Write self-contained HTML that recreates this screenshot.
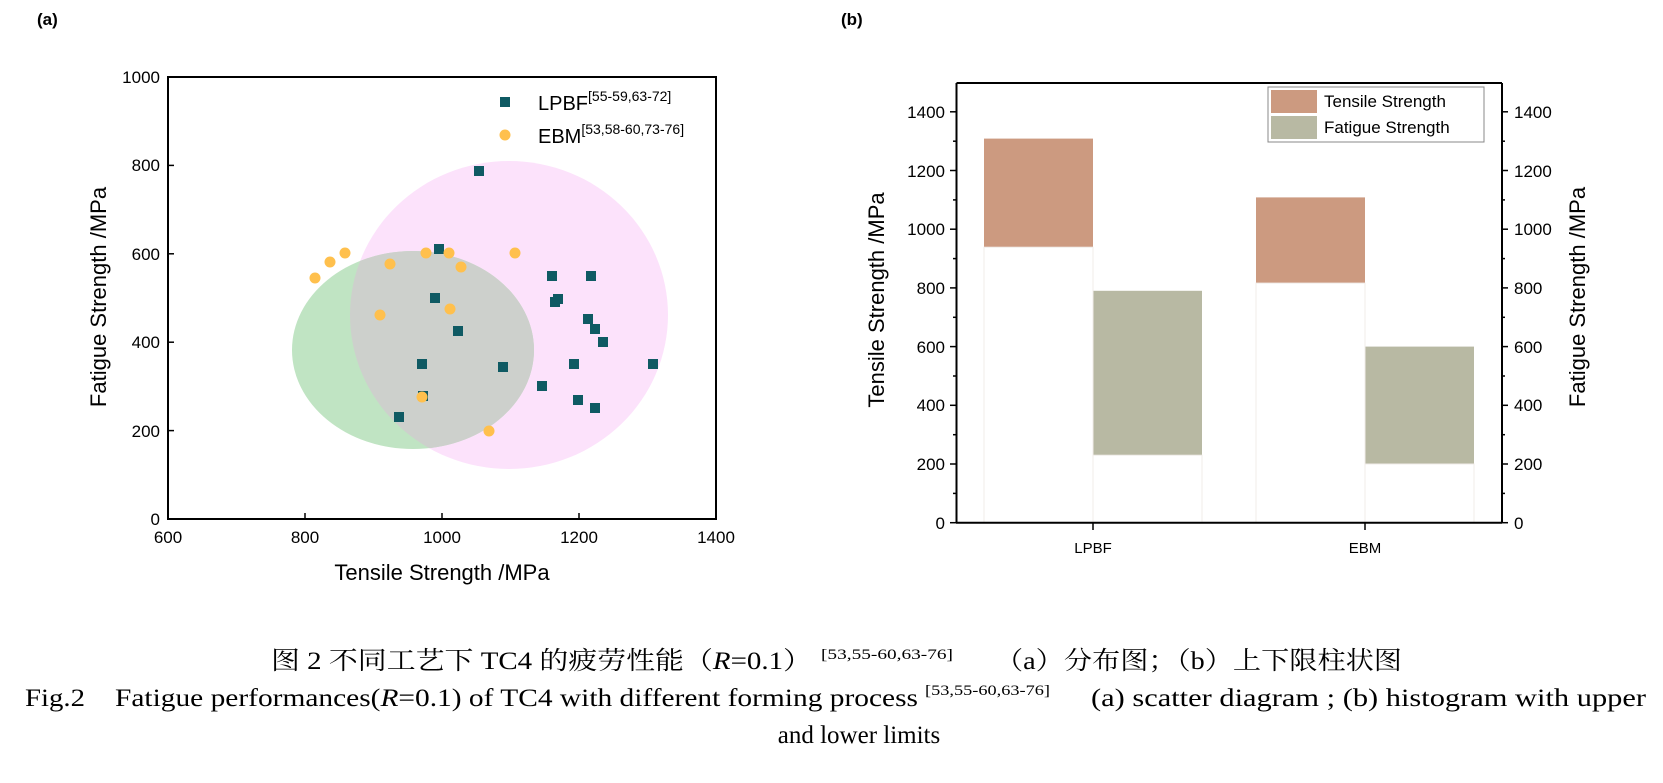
<!DOCTYPE html>
<html><head><meta charset="utf-8"><style>
html,body{margin:0;padding:0;background:#fff;}
svg{display:block;}
</style></head><body>
<svg width="1663" height="783" viewBox="0 0 1663 783" xmlns="http://www.w3.org/2000/svg" font-family="Liberation Sans, sans-serif">
<defs>
<clipPath id="pk"><ellipse cx="509" cy="315" rx="159" ry="154"/></clipPath>
</defs>
<text x="37" y="25" font-size="17" font-weight="bold">(a)</text>
<text x="841" y="25" font-size="17" font-weight="bold">(b)</text>

<!-- Chart A -->
<ellipse cx="509" cy="315" rx="159" ry="154" fill="#fce2fb"/>
<ellipse cx="413" cy="350" rx="121" ry="99" fill="#c0e4c3"/>
<ellipse cx="413" cy="350" rx="121" ry="99" fill="#cdd0cc" clip-path="url(#pk)"/>
<rect x="168" y="77" width="548" height="442" fill="none" stroke="#000" stroke-width="2"/>
<g stroke="#000" stroke-width="1.5">
<line x1="305" y1="519" x2="305" y2="513"/><line x1="442" y1="519" x2="442" y2="513"/><line x1="579" y1="519" x2="579" y2="513"/>
<line x1="168" y1="430.6" x2="174" y2="430.6"/><line x1="168" y1="342.2" x2="174" y2="342.2"/><line x1="168" y1="253.8" x2="174" y2="253.8"/><line x1="168" y1="165.4" x2="174" y2="165.4"/>
</g>
<g font-size="17" text-anchor="middle">
<text x="168" y="543">600</text><text x="305" y="543">800</text><text x="442" y="543">1000</text><text x="579" y="543">1200</text><text x="716" y="543">1400</text>
</g>
<g font-size="17" text-anchor="end">
<text x="160" y="525">0</text><text x="160" y="437">200</text><text x="160" y="348">400</text><text x="160" y="260">600</text><text x="160" y="171">800</text><text x="160" y="83">1000</text>
</g>
<text x="442" y="580" font-size="22" text-anchor="middle">Tensile Strength /MPa</text>
<text transform="translate(106,297) rotate(-90)" font-size="22" text-anchor="middle">Fatigue Strength /MPa</text>
<g fill="#0f5a63">
<rect x="500" y="97" width="10" height="10"/>
<rect x="474" y="166" width="10" height="10"/><rect x="434" y="244" width="10" height="10"/><rect x="430" y="293" width="10" height="10"/>
<rect x="547" y="271" width="10" height="10"/><rect x="586" y="271" width="10" height="10"/><rect x="550" y="297" width="10" height="10"/>
<rect x="553" y="294" width="10" height="10"/><rect x="453" y="326" width="10" height="10"/><rect x="583" y="314" width="10" height="10"/>
<rect x="590" y="324" width="10" height="10"/><rect x="598" y="337" width="10" height="10"/><rect x="417" y="359" width="10" height="10"/>
<rect x="498" y="362" width="10" height="10"/><rect x="569" y="359" width="10" height="10"/><rect x="648" y="359" width="10" height="10"/>
<rect x="537" y="381" width="10" height="10"/><rect x="573" y="395" width="10" height="10"/><rect x="590" y="403" width="10" height="10"/>
<rect x="418" y="391" width="10" height="10"/><rect x="394" y="412" width="10" height="10"/>
</g>
<g fill="#ffc04d">
<circle cx="505" cy="135" r="5.5"/>
<circle cx="315" cy="278" r="5.5"/><circle cx="330" cy="262" r="5.5"/><circle cx="345" cy="253" r="5.5"/><circle cx="390" cy="264" r="5.5"/>
<circle cx="426" cy="253" r="5.5"/><circle cx="449" cy="253" r="5.5"/><circle cx="461" cy="267" r="5.5"/><circle cx="515" cy="253" r="5.5"/>
<circle cx="380" cy="315" r="5.5"/><circle cx="450" cy="309" r="5.5"/><circle cx="422" cy="397" r="5.5"/><circle cx="489" cy="431" r="5.5"/>
</g>
<text x="538" y="110" font-size="20">LPBF<tspan font-size="14" dy="-9">[55-59,63-72]</tspan></text>
<text x="538" y="143" font-size="20">EBM<tspan font-size="14" dy="-9">[53,58-60,73-76]</tspan></text>

<!-- Chart B -->
<g>
<rect x="984" y="138.6" width="109" height="108.6" fill="#cc9a80"/>
<rect x="1093" y="290.8" width="109" height="164.4" fill="#b8b9a3"/>
<rect x="1256" y="197.4" width="109" height="85.7" fill="#cc9a80"/>
<rect x="1365" y="346.6" width="109" height="117.4" fill="#b8b9a3"/>
<g stroke="#f0ece8" stroke-width="1" fill="none">
<rect x="984" y="247.2" width="109" height="275.5"/><rect x="1093" y="455.2" width="109" height="67.5"/>
<rect x="1256" y="283.1" width="109" height="239.6"/><rect x="1365" y="464" width="109" height="58.7"/>
</g>
</g>
<line x1="956.5" y1="83" x2="1502" y2="83" stroke="#000" stroke-width="2"/>
<line x1="956.5" y1="83" x2="956.5" y2="523" stroke="#000" stroke-width="2"/>
<line x1="1502" y1="83" x2="1502" y2="523" stroke="#000" stroke-width="2"/>
<line x1="956" y1="522.7" x2="1502" y2="522.7" stroke="#000" stroke-width="2"/>
<g stroke="#000" stroke-width="1.5">
<line x1="1093" y1="523" x2="1093" y2="530"/><line x1="1365" y1="523" x2="1365" y2="530"/>
<g id="tk">
<line x1="950" y1="522.7" x2="956" y2="522.7"/><line x1="950" y1="464" x2="956" y2="464"/><line x1="950" y1="405.3" x2="956" y2="405.3"/><line x1="950" y1="346.6" x2="956" y2="346.6"/><line x1="950" y1="287.9" x2="956" y2="287.9"/><line x1="950" y1="229.2" x2="956" y2="229.2"/><line x1="950" y1="170.5" x2="956" y2="170.5"/><line x1="950" y1="111.8" x2="956" y2="111.8"/>
<line x1="953" y1="493.4" x2="956" y2="493.4"/><line x1="953" y1="434.7" x2="956" y2="434.7"/><line x1="953" y1="376" x2="956" y2="376"/><line x1="953" y1="317.3" x2="956" y2="317.3"/><line x1="953" y1="258.6" x2="956" y2="258.6"/><line x1="953" y1="199.9" x2="956" y2="199.9"/><line x1="953" y1="141.2" x2="956" y2="141.2"/>
</g>
<g transform="translate(2458,0) scale(-1,1)"><use href="#tk"/></g>
</g>
<g font-size="17" text-anchor="end">
<text x="945" y="529">0</text><text x="945" y="470">200</text><text x="945" y="411">400</text><text x="945" y="353">600</text><text x="945" y="294">800</text><text x="945" y="235">1000</text><text x="945" y="177">1200</text><text x="945" y="118">1400</text>
</g>
<g font-size="17">
<text x="1514" y="529">0</text><text x="1514" y="470">200</text><text x="1514" y="411">400</text><text x="1514" y="353">600</text><text x="1514" y="294">800</text><text x="1514" y="235">1000</text><text x="1514" y="177">1200</text><text x="1514" y="118">1400</text>
</g>
<g font-size="15" text-anchor="middle"><text x="1093" y="553">LPBF</text><text x="1365" y="553">EBM</text></g>
<text transform="translate(884,300) rotate(-90)" font-size="22" text-anchor="middle">Tensile Strength /MPa</text>
<text transform="translate(1585,297) rotate(-90)" font-size="22" text-anchor="middle">Fatigue Strength /MPa</text>
<rect x="1268" y="87" width="216" height="55" fill="#fff" stroke="#888" stroke-width="1"/>
<rect x="1271" y="90" width="46" height="23" fill="#cc9a80"/>
<rect x="1271" y="116" width="46" height="23" fill="#b8b9a3"/>
<text x="1324" y="107" font-size="17">Tensile Strength</text>
<text x="1324" y="133" font-size="17">Fatigue Strength</text>

<!-- Caption -->
<g font-family="Liberation Serif, Noto Serif CJK SC, serif">
<text x="271" y="669" font-size="25" textLength="541" lengthAdjust="spacingAndGlyphs">图 2  不同工艺下 TC4 的疲劳性能（<tspan font-style="italic">R</tspan>=0.1）</text>
<text x="821" y="659" font-size="15" textLength="132" lengthAdjust="spacingAndGlyphs">[53,55-60,63-76]</text>
<text x="995" y="669" font-size="25" textLength="407" lengthAdjust="spacingAndGlyphs">（a）分布图；（b）上下限柱状图</text>

<text x="25" y="706" font-size="25" textLength="60" lengthAdjust="spacingAndGlyphs">Fig.2</text>
<text x="115" y="706" font-size="25" textLength="803" lengthAdjust="spacingAndGlyphs">Fatigue performances(<tspan font-style="italic">R</tspan>=0.1) of TC4 with different forming process</text>
<text x="925" y="695" font-size="15" textLength="125" lengthAdjust="spacingAndGlyphs">[53,55-60,63-76]</text>
<text x="1091" y="706" font-size="25" textLength="555" lengthAdjust="spacingAndGlyphs">(a) scatter diagram  ;  (b) histogram with upper</text>
<text x="859" y="743" font-size="25" text-anchor="middle">and lower limits</text>
</g>
</svg>
</body></html>
